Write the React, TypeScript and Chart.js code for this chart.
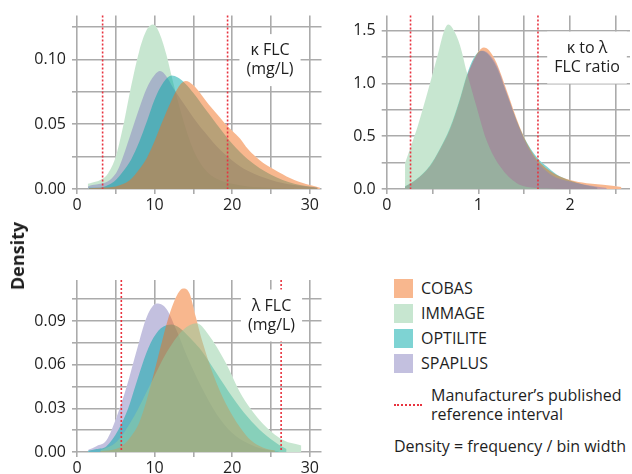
import React, { useEffect, useRef } from 'react';
import { Chart, registerables } from 'chart.js';

Chart.register(...registerables);

const FONT = '"Open Sans", "Noto Sans", sans-serif';
const TEXT = '#1e1e1e';
const GRID = '#ababab';
const REF_RED = '#e8333f';

// ---- series / legend ----
const seriesNames = ['COBAS', 'IMMAGE', 'OPTILITE', 'SPAPLUS'];
const legendColors = ['#f8b78e', '#c7e6d0', '#7ed3d3', '#c3c0df'];
const fillColors = [
  'rgba(241,111,29,0.5)',
  'rgba(143,205,161,0.5)',
  'rgba(0,167,167,0.5)',
  'rgba(135,129,191,0.5)',
];

// ---- panel 1: kappa FLC (mg/L) ----
const kappaCobasX = [1.5, 3, 5, 6, 7, 8, 9, 10, 11, 12, 13, 14, 15, 16, 17, 18, 19, 20, 21, 22, 23, 24, 26, 28, 30, 31.3];
const kappaCobasY = [0.0005, 0.001, 0.002, 0.004, 0.008, 0.015, 0.024, 0.037, 0.052, 0.066, 0.078, 0.0833, 0.080, 0.073, 0.065, 0.058, 0.051, 0.045, 0.039, 0.031, 0.025, 0.020, 0.013, 0.007, 0.003, 0.001];
const kappaImmageX = [1.4, 2, 3, 4, 5, 6, 7, 8, 9, 9.8, 10.5, 11.5, 12.4, 13.5, 15, 16, 17, 18, 20, 22, 25, 28];
const kappaImmageY = [0.004, 0.005, 0.007, 0.012, 0.025, 0.050, 0.080, 0.106, 0.123, 0.127, 0.122, 0.104, 0.082, 0.057, 0.030, 0.019, 0.012, 0.008, 0.004, 0.002, 0.001, 0.0003];
const kappaOptiliteX = [1.5, 3, 4, 5, 6, 7, 8, 9, 10, 11, 12.2, 13, 14, 15, 16, 17, 18, 20, 22, 25, 28, 31];
const kappaOptiliteY = [0.001, 0.001, 0.003, 0.007, 0.014, 0.023, 0.036, 0.052, 0.069, 0.081, 0.0875, 0.086, 0.081, 0.074, 0.066, 0.058, 0.050, 0.035, 0.023, 0.011, 0.004, 0.001];
const kappaSpaplusX = [1.4, 2, 3, 4, 5, 5.5, 6, 7, 8, 9, 10, 10.7, 11.5, 12.4, 13.5, 15, 16, 17, 18, 20, 22, 25, 28, 31];
const kappaSpaplusY = [0.002, 0.003, 0.004, 0.006, 0.012, 0.018, 0.026, 0.044, 0.062, 0.078, 0.088, 0.091, 0.087, 0.078, 0.068, 0.055, 0.047, 0.040, 0.033, 0.022, 0.014, 0.007, 0.003, 0.001];
const kappaRefInterval = [3.3, 19.4];
const kappaLabel = ['κ FLC', '(mg/L)'];

// ---- panel 2: kappa to lambda FLC ratio ----
const ratioCobasX = [0.2, 0.32, 0.47, 0.58, 0.69, 0.8, 0.87, 0.95, 1.0, 1.06, 1.12, 1.2, 1.31, 1.45, 1.55, 1.65, 1.82, 2.0, 2.18, 2.36, 2.56];
const ratioCobasY = [0.02, 0.085, 0.21, 0.37, 0.56, 0.84, 1.05, 1.22, 1.30, 1.34, 1.31, 1.19, 0.93, 0.59, 0.40, 0.27, 0.15, 0.085, 0.055, 0.04, 0.02];
const ratioImmageX = [0.2, 0.27, 0.34, 0.45, 0.56, 0.62, 0.67, 0.72, 0.8, 0.87, 0.98, 1.09, 1.24, 1.42, 1.6, 1.8, 1.95];
const ratioImmageY = [0.245, 0.42, 0.60, 0.93, 1.28, 1.48, 1.557, 1.52, 1.36, 1.12, 0.78, 0.46, 0.21, 0.055, 0.012, 0.003, 0.001];
const ratioOptiliteX = [0.2, 0.32, 0.47, 0.58, 0.69, 0.8, 0.87, 0.95, 1.03, 1.1, 1.2, 1.31, 1.45, 1.55, 1.65, 1.75, 1.85, 2.0, 2.15, 2.3];
const ratioOptiliteY = [0.025, 0.09, 0.22, 0.38, 0.58, 0.86, 1.07, 1.24, 1.31, 1.28, 1.15, 0.90, 0.58, 0.41, 0.29, 0.21, 0.14, 0.08, 0.04, 0.015];
const ratioSpaplusX = [0.2, 0.32, 0.47, 0.58, 0.69, 0.8, 0.87, 0.95, 1.04, 1.1, 1.2, 1.31, 1.45, 1.55, 1.65, 1.8, 2.0, 2.2, 2.4];
const ratioSpaplusY = [0.02, 0.085, 0.21, 0.37, 0.56, 0.84, 1.05, 1.22, 1.31, 1.29, 1.17, 0.91, 0.57, 0.38, 0.25, 0.13, 0.07, 0.035, 0.01];
const ratioRefInterval = [0.26, 1.65];
const ratioLabel = ['κ to λ', 'FLC ratio'];

// ---- panel 3: lambda FLC (mg/L) ----
const lambdaCobasX = [3, 5, 6, 7, 8, 9, 10, 11, 12, 13, 13.7, 14.5, 15.3, 16.2, 17.5, 19.2, 21, 22.4, 24, 25.5];
const lambdaCobasY = [0.0005, 0.002, 0.005, 0.011, 0.020, 0.036, 0.056, 0.077, 0.096, 0.109, 0.1124, 0.109, 0.093, 0.075, 0.054, 0.033, 0.017, 0.008, 0.003, 0.001];
const lambdaImmageX = [3, 5.1, 7.3, 9.5, 11.5, 13.7, 15.4, 16.9, 19.2, 20.9, 22.6, 24.4, 26.6, 28.9];
const lambdaImmageY = [0.001, 0.007, 0.024, 0.047, 0.068, 0.084, 0.0884, 0.081, 0.061, 0.042, 0.028, 0.017, 0.008, 0.0045];
const lambdaOptiliteX = [1.4, 2.5, 3.8, 5.3, 6.6, 7.5, 8.4, 9.5, 10.8, 12.2, 13, 14.1, 15, 16, 18, 20, 22, 24, 26, 27];
const lambdaOptiliteY = [0.0008, 0.002, 0.004, 0.015, 0.030, 0.045, 0.060, 0.075, 0.085, 0.0877, 0.086, 0.081, 0.076, 0.070, 0.054, 0.038, 0.024, 0.013, 0.005, 0.002];
const lambdaSpaplusX = [1.45, 2.5, 3.8, 5.1, 6.4, 7.7, 9.0, 10.3, 11.5, 12.8, 14, 15, 16, 18, 20, 22, 24, 26];
const lambdaSpaplusY = [0.0015, 0.004, 0.008, 0.024, 0.045, 0.070, 0.093, 0.102, 0.0985, 0.084, 0.068, 0.056, 0.045, 0.026, 0.013, 0.006, 0.002, 0.0005];
const lambdaRefInterval = [5.71, 26.3];
const lambdaLabel = ['λ FLC', '(mg/L)'];

type Series = { name: string; x: number[]; y: number[] };
type PanelCfg = {
  series: Series[];
  drawOrder: string[]; // bottom -> top
  refs: number[];
  label: string[];
  xMax: number; xStep: number; xLabelEvery: number; xDec: number;
  yMax: number; yStep: number; yLabelEvery: number; yDec: number;
  padTop: number; padRight: number; yAxisW: number; xAxisH: number;
  labelDx: number; labelDy: number;
};

const panels: PanelCfg[] = [
  {
    series: [
      { name: 'COBAS', x: kappaCobasX, y: kappaCobasY },
      { name: 'IMMAGE', x: kappaImmageX, y: kappaImmageY },
      { name: 'OPTILITE', x: kappaOptiliteX, y: kappaOptiliteY },
      { name: 'SPAPLUS', x: kappaSpaplusX, y: kappaSpaplusY },
    ],
    drawOrder: ['IMMAGE', 'SPAPLUS', 'OPTILITE', 'COBAS'],
    refs: kappaRefInterval,
    label: kappaLabel,
    xMax: 31.5, xStep: 5, xLabelEvery: 10, xDec: 0,
    yMax: 0.1338, yStep: 0.025, yLabelEvery: 0.05, yDec: 2,
    padTop: 15, padRight: 8.5, yAxisW: 77, xAxisH: 41,
    labelDx: 51.5, labelDy: 44.5,
  },
  {
    series: [
      { name: 'COBAS', x: ratioCobasX, y: ratioCobasY },
      { name: 'IMMAGE', x: ratioImmageX, y: ratioImmageY },
      { name: 'OPTILITE', x: ratioOptiliteX, y: ratioOptiliteY },
      { name: 'SPAPLUS', x: ratioSpaplusX, y: ratioSpaplusY },
    ],
    drawOrder: ['OPTILITE', 'COBAS', 'SPAPLUS', 'IMMAGE'],
    refs: ratioRefInterval,
    label: ratioLabel,
    xMax: 2.654, xStep: 0.5, xLabelEvery: 1, xDec: 0,
    yMax: 1.642, yStep: 0.25, yLabelEvery: 0.5, yDec: 1,
    padTop: 15, padRight: 2, yAxisW: 56.7, xAxisH: 41,
    labelDx: 43, labelDy: 42,
  },
  {
    series: [
      { name: 'COBAS', x: lambdaCobasX, y: lambdaCobasY },
      { name: 'IMMAGE', x: lambdaImmageX, y: lambdaImmageY },
      { name: 'OPTILITE', x: lambdaOptiliteX, y: lambdaOptiliteY },
      { name: 'SPAPLUS', x: lambdaSpaplusX, y: lambdaSpaplusY },
    ],
    drawOrder: ['SPAPLUS', 'OPTILITE', 'COBAS', 'IMMAGE'],
    refs: lambdaRefInterval,
    label: lambdaLabel,
    xMax: 31.5, xStep: 5, xLabelEvery: 10, xDec: 0,
    yMax: 0.1182, yStep: 0.015, yLabelEvery: 0.03, yDec: 2,
    padTop: 40, padRight: 8.5, yAxisW: 77, xAxisH: 48,
    labelDx: 50, labelDy: 35.5,
  },
];

function labelFn(every: number, dec: number) {
  return (v: number | string) => {
    const n = Number(v);
    const r = n / every;
    return Math.abs(r - Math.round(r)) < 1e-6 ? n.toFixed(dec) : '';
  };
}

function makePanel(canvas: HTMLCanvasElement, cfg: PanelCfg) {
  const datasets: any[] = [];
  // white underlays hide the grid beneath the densities
  cfg.series.forEach((s) => {
    datasets.push({
      data: s.x.map((x, i) => ({ x, y: s.y[i] })),
      backgroundColor: '#ffffff',
      borderColor: 'rgba(0,0,0,0)',
      borderWidth: 0,
      fill: 'origin',
      pointRadius: 0,
      cubicInterpolationMode: 'monotone',
      order: 100,
    });
  });
  cfg.series.forEach((s) => {
    const idx = seriesNames.indexOf(s.name);
    const pos = cfg.drawOrder.indexOf(s.name);
    datasets.push({
      label: s.name,
      data: s.x.map((x, i) => ({ x, y: s.y[i] })),
      backgroundColor: fillColors[idx],
      borderColor: 'rgba(0,0,0,0)',
      borderWidth: 0,
      fill: 'origin',
      pointRadius: 0,
      cubicInterpolationMode: 'monotone',
      order: 10 - pos,
    });
  });

  const overlay = {
    id: 'panelOverlay',
    afterDatasetsDraw(chart: any) {
      const { ctx, chartArea, scales } = chart;
      ctx.save();
      ctx.strokeStyle = REF_RED;
      ctx.lineWidth = 1.6;
      ctx.setLineDash([2, 2]);
      cfg.refs.forEach((v) => {
        const px = scales.x.getPixelForValue(v);
        ctx.beginPath();
        ctx.moveTo(px, chartArea.top);
        ctx.lineTo(px, chartArea.bottom);
        ctx.stroke();
      });
      ctx.setLineDash([]);
      ctx.font = `16px ${FONT}`;
      const lh = 19;
      const w = Math.max(...cfg.label.map((t) => ctx.measureText(t).width)) + 14;
      const h = cfg.label.length * lh + 14;
      const cx = chartArea.right - cfg.labelDx;
      const cy = chartArea.top + cfg.labelDy;
      ctx.fillStyle = '#ffffff';
      ctx.fillRect(cx - w / 2, cy - h / 2, w, h);
      ctx.fillStyle = TEXT;
      ctx.textAlign = 'center';
      ctx.textBaseline = 'middle';
      cfg.label.forEach((t, i) => {
        ctx.fillText(t, cx, cy - ((cfg.label.length - 1) * lh) / 2 + i * lh);
      });
      ctx.restore();
    },
  };

  const tickFont = { family: FONT, size: 16 };
  return new Chart(canvas, {
    type: 'line',
    data: { datasets },
    plugins: [overlay],
    options: {
      animation: false,
      responsive: false,
      maintainAspectRatio: false,
      events: [],
      layout: { padding: { top: cfg.padTop, right: cfg.padRight, left: 0, bottom: 0 } },
      plugins: { legend: { display: false }, tooltip: { enabled: false } },
      scales: {
        x: {
          type: 'linear',
          min: 0,
          max: cfg.xMax,
          ticks: {
            stepSize: cfg.xStep,
            includeBounds: false,
            autoSkip: false,
            maxRotation: 0,
            padding: 2,
            color: TEXT,
            font: tickFont,
            callback: labelFn(cfg.xLabelEvery, cfg.xDec),
          },
          grid: { color: GRID, lineWidth: 1.6, tickLength: 5, drawTicks: true },
          border: { display: false },
          afterFit: (s: any) => { s.height = cfg.xAxisH; },
        },
        y: {
          type: 'linear',
          min: 0,
          max: cfg.yMax,
          ticks: {
            stepSize: cfg.yStep,
            includeBounds: false,
            autoSkip: false,
            padding: 6,
            color: TEXT,
            font: tickFont,
            callback: labelFn(cfg.yLabelEvery, cfg.yDec),
          },
          grid: { color: GRID, lineWidth: 1.6, tickLength: 5, drawTicks: true },
          border: { display: false },
          afterFit: (s: any) => { s.width = cfg.yAxisW; },
        },
      },
    } as any,
  });
}

const legendTop = [279, 304, 329, 354];

export default function App() {
  const c1 = useRef<HTMLCanvasElement>(null);
  const c2 = useRef<HTMLCanvasElement>(null);
  const c3 = useRef<HTMLCanvasElement>(null);

  useEffect(() => {
    const charts = [
      makePanel(c1.current!, panels[0]),
      makePanel(c2.current!, panels[1]),
      makePanel(c3.current!, panels[2]),
    ];
    return () => charts.forEach((c) => c.destroy());
  }, []);

  const txt: React.CSSProperties = {
    position: 'absolute',
    fontFamily: FONT,
    fontSize: 16,
    lineHeight: '19px',
    color: TEXT,
    whiteSpace: 'nowrap',
  };

  return (
    <div style={{ position: 'absolute', left: 0, top: 0, width: 632, height: 474, overflow: 'hidden', background: '#fff' }}>
      <canvas ref={c1} width={330} height={230} style={{ position: 'absolute', left: 0, top: 0, width: 330, height: 230 }} />
      <canvas ref={c2} width={302} height={230} style={{ position: 'absolute', left: 330, top: 0, width: 302, height: 230 }} />
      <canvas ref={c3} width={330} height={260} style={{ position: 'absolute', left: 0, top: 240, width: 330, height: 260 }} />

      <div
        style={{
          ...txt,
          left: 17,
          top: 256,
          fontSize: 18,
          fontWeight: 700,
          lineHeight: '22px',
          transform: 'translate(-50%, -50%) rotate(-90deg)',
        }}
      >
        Density
      </div>

      {seriesNames.map((n, i) => (
        <React.Fragment key={n}>
          <div style={{ position: 'absolute', left: 394, top: legendTop[i], width: 19, height: 19, background: legendColors[i] }} />
          <div style={{ ...txt, left: 421, top: legendTop[i] }}>{n}</div>
        </React.Fragment>
      ))}
      <div style={{ position: 'absolute', left: 394, top: 404, width: 28, height: 0, borderTop: `2px dotted ${REF_RED}` }} />
      <div style={{ ...txt, left: 431, top: 386 }}>
        Manufacturer’s published
        <br />
        reference interval
      </div>
      <div style={{ ...txt, left: 394, top: 437 }}>Density = frequency / bin width</div>
    </div>
  );
}
